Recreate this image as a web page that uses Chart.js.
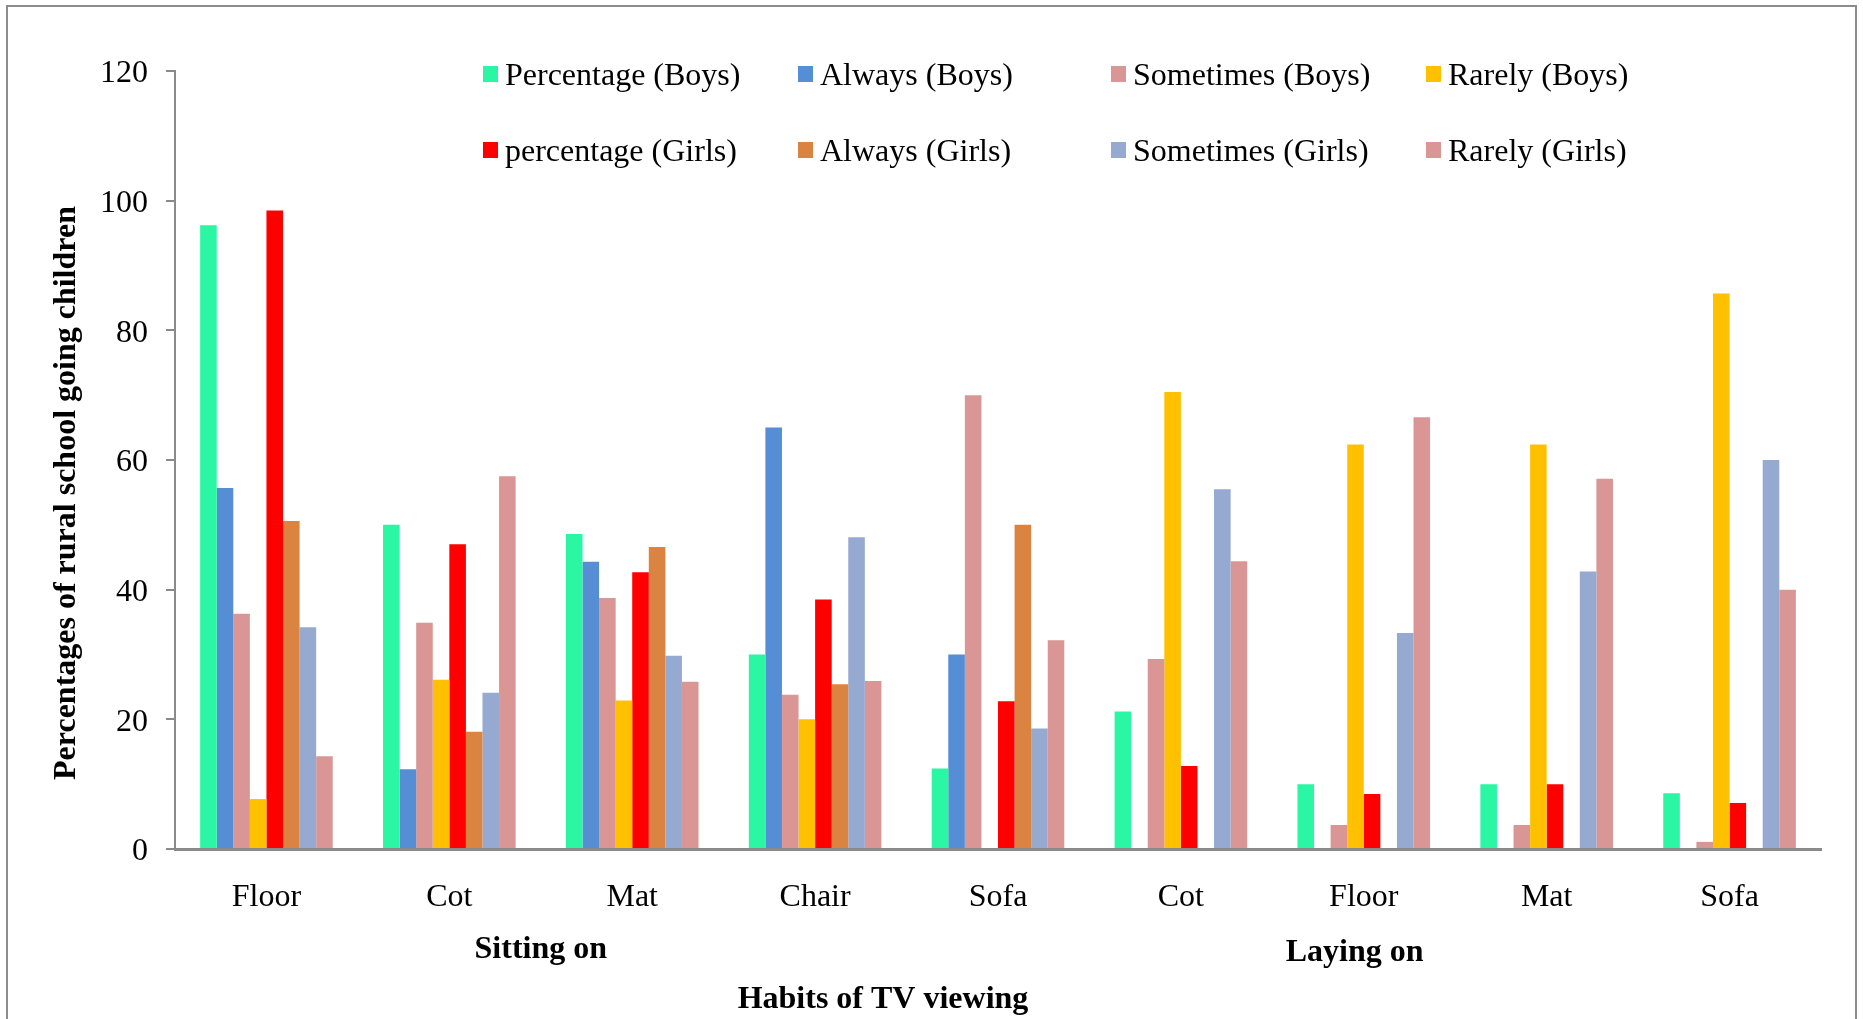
<!DOCTYPE html>
<html>
<head>
<meta charset="utf-8">
<title>Habits of TV viewing</title>
<script src="https://cdn.jsdelivr.net/npm/chart.js@4/dist/chart.umd.min.js"></script>
<style>
  html, body { margin: 0; padding: 0; background: #ffffff; overflow: hidden; }
  #wrap { position: relative; width: 1863px; height: 1019px; }
  #frame { position: absolute; left: 6px; top: 5px; width: 1851px; height: 1100px; border: 2px solid #8c8c8c; box-sizing: border-box; }
  canvas { position: absolute; left: 0; top: 0; }
</style>
</head>
<body>
<div id="wrap">
  <div id="frame"></div>
  <canvas id="chart" width="1863" height="1019"></canvas>
</div>
<script>
// Categories along the x axis (first five: sitting on, last four: laying on)
const categories = ['Floor', 'Cot', 'Mat', 'Chair', 'Sofa', 'Cot', 'Floor', 'Mat', 'Sofa'];

// Series values (% of rural school going children)
const percentageBoys  = [96.2, 50.0, 48.6, 30.0, 12.4, 21.2, 10.0, 10.0, 8.6];
const alwaysBoys      = [55.7, 12.3, 44.3, 65.0, 30.0, 0, 0, 0, 0];
const sometimesBoys   = [36.3, 34.9, 38.7, 23.8, 70.0, 29.3, 3.7, 3.7, 1.1];
const rarelyBoys      = [7.7, 26.1, 22.9, 20.0, 0, 70.5, 62.4, 62.4, 85.7];
const percentageGirls = [98.5, 47.0, 42.7, 38.5, 22.8, 12.8, 8.5, 10.0, 7.1];
const alwaysGirls     = [50.6, 18.1, 46.6, 25.4, 50.0, 0, 0, 0, 0];
const sometimesGirls  = [34.2, 24.1, 29.8, 48.1, 18.6, 55.5, 33.3, 42.8, 60.0];
const rarelyGirls     = [14.3, 57.5, 25.8, 25.9, 32.2, 44.4, 66.6, 57.1, 40.0];

// Series names
const seriesNames = [
  'Percentage (Boys)', 'Always (Boys)', 'Sometimes (Boys)', 'Rarely (Boys)',
  'percentage (Girls)', 'Always (Girls)', 'Sometimes (Girls)', 'Rarely (Girls)'
];

// Y axis tick values
const yTicks = [0, 20, 40, 60, 80, 100, 120];

// Axis and group titles
const yTitle = 'Percentages of rural school going children';
const xTitle = 'Habits of TV viewing';
const groupTitles = ['Sitting on', 'Laying on'];

const colors = ['#2AF6A4', '#558ED5', '#D99694', '#FFC000', '#FF0000', '#DB8442', '#95A9D1', '#D99694'];
const seriesValues = [percentageBoys, alwaysBoys, sometimesBoys, rarelyBoys,
                      percentageGirls, alwaysGirls, sometimesGirls, rarelyGirls];

const SERIF = '"Liberation Serif", "Times New Roman", serif';

const datasets = seriesNames.map((name, i) => ({
  label: name,
  data: seriesValues[i],
  backgroundColor: colors[i],
  borderWidth: 0,
  categoryPercentage: 0.725,
  barPercentage: 1.0
}));

// Legend laid out as a 4 x 2 grid, plus the free-standing titles
const decorations = {
  id: 'decorations',
  afterDraw(chart) {
    const ctx = chart.ctx;
    const xs = chart.scales.x;
    ctx.save();

    // legend grid
    const colX = [483, 798, 1111, 1426];
    const rowY = [73, 149];
    ctx.font = '32px ' + SERIF;
    ctx.textAlign = 'left';
    ctx.textBaseline = 'middle';
    chart.data.datasets.forEach((ds, i) => {
      const cx = colX[i % 4];
      const cy = rowY[Math.floor(i / 4)];
      ctx.fillStyle = ds.backgroundColor;
      ctx.fillRect(cx, cy - 7, 15, 16);
      ctx.fillStyle = '#000000';
      ctx.fillText(ds.label, cx + 22, cy + 4);
    });

    // group titles under the category labels
    ctx.font = 'bold 32px ' + SERIF;
    ctx.textAlign = 'center';
    ctx.fillText(groupTitles[0], xs.getPixelForValue(1.5), 950);
    ctx.fillText(groupTitles[1], xs.getPixelForValue(5.95), 953);

    // x axis title
    ctx.fillText(xTitle, 883, 1000);

    // y axis title
    ctx.translate(67, 493);
    ctx.rotate(-Math.PI / 2);
    ctx.fillText(yTitle, 0, 0);
    ctx.restore();
  }
};

new Chart(document.getElementById('chart'), {
  type: 'bar',
  data: { labels: categories, datasets: datasets },
  options: {
    responsive: false,
    animation: false,
    layout: { padding: { left: 0, right: 42, top: 71, bottom: 0 } },
    plugins: {
      legend: { display: false },
      tooltip: { enabled: false },
      title: { display: false }
    },
    scales: {
      x: {
        grid: { display: false, drawTicks: false },
        border: { display: true, color: '#8a8a8a', width: 3 },
        ticks: {
          color: '#000000',
          font: { family: SERIF, size: 32 },
          padding: 29,
          maxRotation: 0,
          autoSkip: false
        },
        afterFit(axis) { axis.height = 170; }
      },
      y: {
        min: 0,
        max: 120,
        afterBuildTicks(axis) { axis.ticks = yTicks.map(v => ({ value: v })); },
        grid: {
          drawOnChartArea: false,
          drawTicks: true,
          tickLength: 9,
          color: '#8a8a8a',
          lineWidth: 2
        },
        border: { display: true, color: '#8a8a8a', width: 2 },
        ticks: {
          color: '#000000',
          font: { family: SERIF, size: 32 },
          padding: 18,
          labelOffset: 3
        },
        afterFit(axis) { axis.width = 175; }
      }
    }
  },
  plugins: [decorations]
});
</script>
</body>
</html>
